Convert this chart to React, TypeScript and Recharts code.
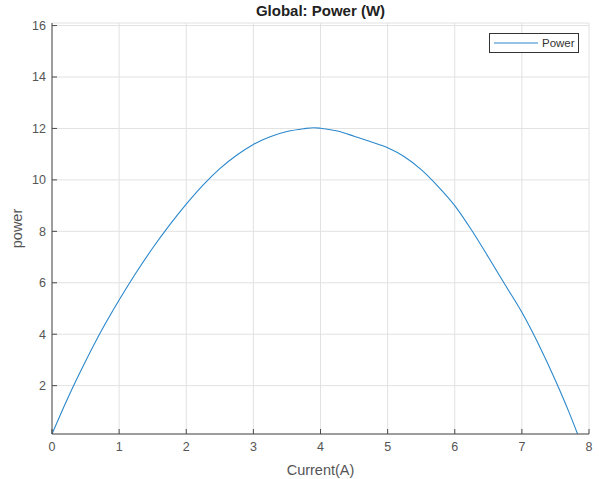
import React from 'react';
import { LineChart, Line, XAxis, YAxis, CartesianGrid } from 'recharts';

// current (A) vs power (W)
const current = [0, 0.25, 0.5, 0.75, 1, 1.25, 1.5, 1.75, 2, 2.25, 2.5, 2.75, 3, 3.25, 3.5, 3.75, 3.9, 4, 4.25, 4.5, 4.75, 5, 5.25, 5.5, 5.75, 6, 6.25, 6.5, 6.75, 7, 7.25, 7.5, 7.7, 7.83];
const power = [0.12, 1.6, 2.95, 4.2, 5.33, 6.38, 7.35, 8.24, 9.06, 9.8, 10.44, 10.96, 11.38, 11.68, 11.88, 11.99, 12.03, 12.01, 11.9, 11.7, 11.48, 11.25, 10.9, 10.4, 9.75, 9.0, 8.05, 7.0, 5.92, 4.85, 3.6, 2.2, 0.98, 0.12];

const xTicks = [0, 1, 2, 3, 4, 5, 6, 7, 8];
const yTicks = [2, 4, 6, 8, 10, 12, 14, 16];

const data = current.map((c, i) => ({ current: c, power: power[i] }));

const FONT = '"Liberation Sans", Arial, sans-serif';
const AXIS = '#4a4a4a';
const TEXT = '#555';
const LINE = '#2b88cc';

export default function App() {
  return (
    <div style={{ position: 'fixed', left: 0, top: 0, width: 599, height: 479, background: '#fff' }}>
      <div
        style={{
          position: 'absolute',
          left: 52,
          width: 537,
          top: 2,
          textAlign: 'center',
          fontFamily: FONT,
          fontWeight: 'bold',
          fontSize: 15,
          color: '#222',
        }}
      >
        Global: Power (W)
      </div>
      <LineChart width={599} height={479} data={data} margin={{ top: 23, right: 10, bottom: 0, left: 0 }}>
        <CartesianGrid stroke="#e2e2e2" />
        <XAxis
          dataKey="current"
          type="number"
          domain={[0, 8]}
          ticks={xTicks}
          height={45}
          stroke={AXIS}
          tickSize={-5}
          tickMargin={13}
          tick={{ fill: TEXT, fontSize: 12.5, fontFamily: FONT }}
          label={{ value: 'Current(A)', position: 'insideBottom', offset: 4, fill: TEXT, fontSize: 14.5, fontFamily: FONT }}
        />
        <XAxis xAxisId="top" orientation="top" dataKey="current" type="number" domain={[0, 8]} ticks={xTicks} height={0} stroke={AXIS} tickSize={-5} tick={false} />
        <YAxis
          type="number"
          domain={[0.12, 16.1]}
          allowDataOverflow
          ticks={yTicks}
          width={52}
          stroke={AXIS}
          tickSize={-5}
          tickMargin={11}
          tick={{ fill: TEXT, fontSize: 12.5, fontFamily: FONT }}
          label={{ value: 'power', angle: -90, position: 'insideLeft', offset: 17, fill: TEXT, fontSize: 14.5, fontFamily: FONT, style: { textAnchor: 'middle' } }}
        />
        <YAxis yAxisId="right" orientation="right" type="number" domain={[0.12, 16.1]} allowDataOverflow ticks={yTicks} width={0} stroke={AXIS} tickSize={-5} tick={false} />
        <Line type="monotone" dataKey="power" stroke={LINE} strokeWidth={1.1} dot={false} isAnimationActive={false} />
      </LineChart>
      <div
        style={{
          position: 'absolute',
          left: 489,
          top: 33,
          width: 88,
          height: 18,
          border: '1px solid #333',
          background: '#fff',
          display: 'flex',
          alignItems: 'center',
          fontFamily: FONT,
          fontSize: 11.5,
          color: '#333',
        }}
      >
        <svg width={46} height={4} style={{ marginLeft: 4, marginRight: 2 }}>
          <line x1={0} y1={2} x2={44} y2={2} stroke={LINE} strokeWidth={1.2} />
        </svg>
        Power
      </div>
    </div>
  );
}
